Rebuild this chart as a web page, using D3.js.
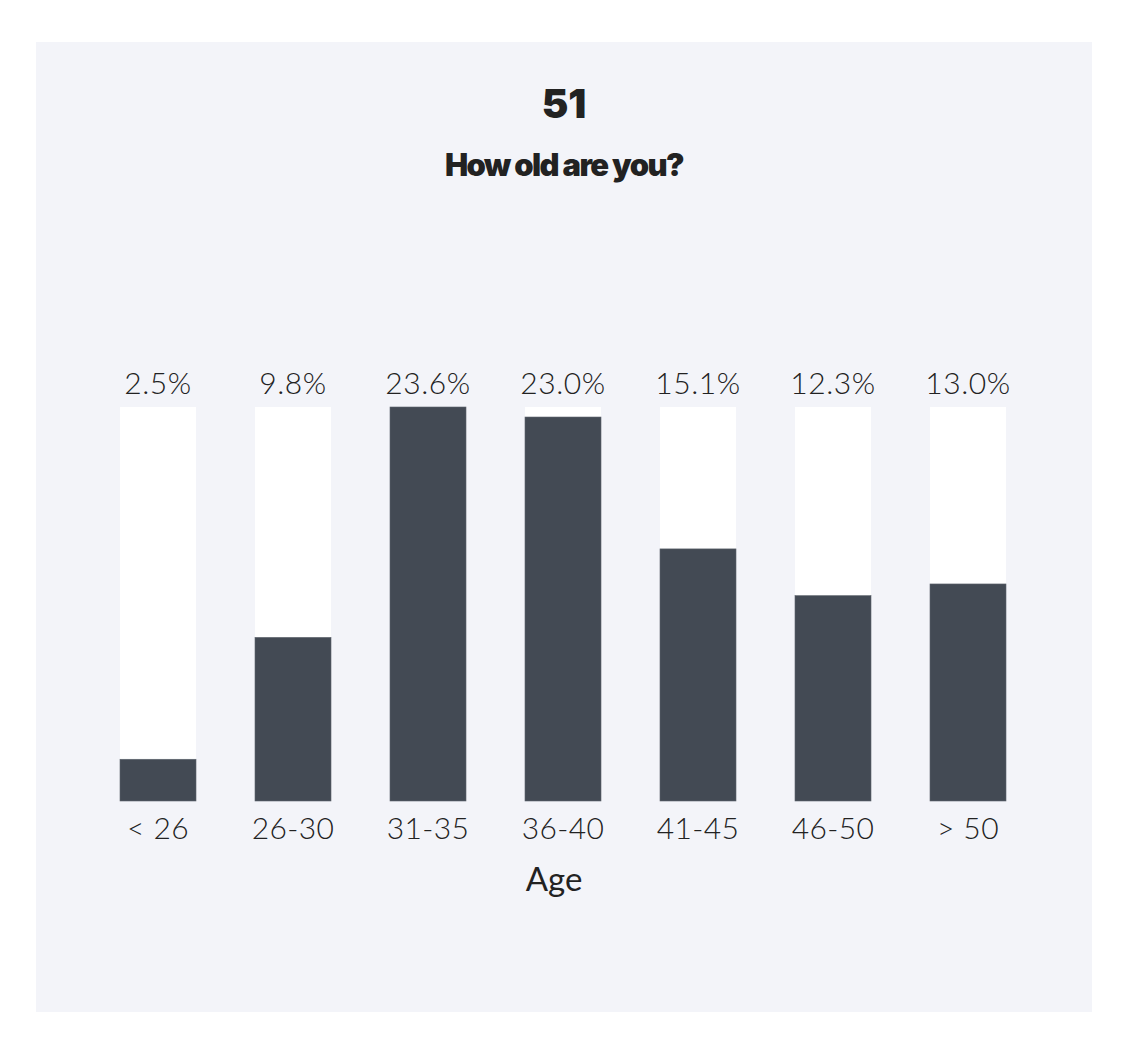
<!DOCTYPE html>
<html>
<head>
  <meta charset="utf-8">
  <style>
  body {
    margin: 0;
    background: #ffffff;
  }
  .pct, .cat {
    font-family: Lato, "Open Sans", sans-serif;
    font-weight: 300;
    fill: #222222;
  }
  .heavy {
    font-family: Inter, "Open Sans", sans-serif;
    font-weight: 900;
    fill: #222222;
  }
  </style>
  <script src="https://d3js.org/d3.v7.min.js"></script>
</head>
<body>
  <script type="text/javascript">
  // chart values
  var categories = ['< 26', '26-30', '31-35', '36-40', '41-45', '46-50', '> 50'];
  var shares = [2.5, 9.8, 23.6, 23.0, 15.1, 12.3, 13.0];
  var shareLabels = ['2.5%', '9.8%', '23.6%', '23.0%', '15.1%', '12.3%', '13.0%'];
  var questionNumber = '51';
  var question = 'How old are you?';
  var axisTitle = 'Age';

  var width = 1140,
      height = 1060;

  var data = categories.map(function(c, i) {
    return {cat: c, value: shares[i], label: shareLabels[i]};
  });

  var svg = d3.select('body')
              .append('svg')
              .attr('width', width)
              .attr('height', height);

  // panel
  svg.append('rect')
     .attr('x', 36)
     .attr('y', 42)
     .attr('width', 1056)
     .attr('height', 970)
     .attr('fill', '#f3f4f9');

  // scales
  var x_scale = d3.scaleBand()
                  .domain(categories)
                  .range([120, 1006])
                  .paddingInner(0.437)
                  .paddingOuter(0);

  var y_scale = d3.scaleLinear()
                  .domain([0, d3.max(shares)])
                  .range([801, 407]);

  // titles
  svg.append('text')
     .attr('class', 'heavy')
     .attr('x', 564)
     .attr('y', 118)
     .attr('text-anchor', 'middle')
     .style('font-size', '40px')
     .text(questionNumber);

  svg.append('text')
     .attr('class', 'heavy')
     .attr('x', 564)
     .attr('y', 176)
     .attr('text-anchor', 'middle')
     .style('font-size', '31px')
     .style('letter-spacing', '-1.6px')
     .text(question);

  var chart = svg.append('g').attr('class', 'chart');

  // white track bars
  chart.selectAll('rect.track')
       .data(data)
       .enter()
       .append('rect')
       .attr('class', 'track')
       .attr('x', function(d) { return x_scale(d.cat); })
       .attr('y', y_scale.range()[1])
       .attr('width', x_scale.bandwidth())
       .attr('height', y_scale.range()[0] - y_scale.range()[1])
       .attr('fill', '#ffffff');

  // filled bars
  chart.selectAll('rect.bar')
       .data(data)
       .enter()
       .append('rect')
       .attr('class', 'bar')
       .attr('x', function(d) { return x_scale(d.cat); })
       .attr('y', function(d) { return y_scale(d.value); })
       .attr('width', x_scale.bandwidth())
       .attr('height', function(d) { return y_scale(0) - y_scale(d.value); })
       .attr('fill', '#434a54')
       .attr('stroke', '#5d636c')
       .attr('stroke-width', 0.6);

  // percentage labels
  chart.selectAll('text.pct')
       .data(data)
       .enter()
       .append('text')
       .attr('class', 'pct')
       .attr('x', function(d) { return x_scale(d.cat) + x_scale.bandwidth() / 2; })
       .attr('y', 394)
       .attr('text-anchor', 'middle')
       .style('font-size', '30px')
       .style('letter-spacing', '0.6px')
       .text(function(d) { return d.label; });

  // x axis
  var x_axis = d3.axisBottom(x_scale).tickSize(0).tickPadding(0);

  var axisG = chart.append('g')
       .attr('class', 'x axis')
       .attr('transform', 'translate(0,' + 818 + ')')
       .call(x_axis);

  axisG.select('.domain').remove();
  axisG.selectAll('text')
       .attr('class', 'cat')
       .attr('dy', '0.71em')
       .style('font-size', '30px')
       .style('letter-spacing', '0.4px');

  svg.append('text')
     .attr('class', 'cat')
     .attr('x', 554)
     .attr('y', 891)
     .attr('text-anchor', 'middle')
     .style('font-weight', 400)
     .style('font-size', '33px')
     .text(axisTitle);
  </script>
</body>
</html>
